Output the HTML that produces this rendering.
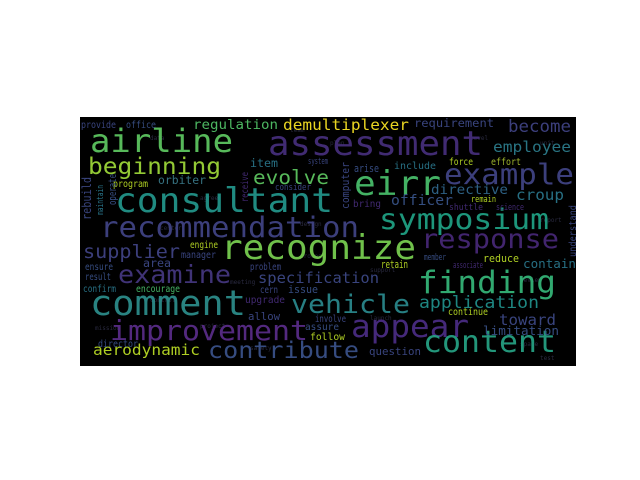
<!DOCTYPE html>
<html><head><meta charset="utf-8"><style>
html,body{margin:0;padding:0;background:#fff;width:640px;height:480px;overflow:hidden}
svg text{font-family:"DejaVu Sans Mono","Liberation Mono",monospace}
</style></head><body>
<svg id="cloud" width="640" height="480" xmlns="http://www.w3.org/2000/svg">
<rect x="80" y="117" width="496" height="249" fill="#000"/>
</svg>
<script>
// words, font sizes and colors for the cloud
const words = ["airline","assessment","consultant","recommendation","recognize","eirr","example","symposium","finding","response","appear","content","comment","vehicle","improvement","contribute","examine","supplier","specification","aerodynamic","beginning","evolve","regulation","demultiplexer","requirement","become","employee","provide","office","item","orbiter","program","consider","system","arise","include","force","effort","directive","croup","officer","bring","remain","shuttle","science","engine","manager","area","ensure","result","problem","confirm","encourage","cern","issue","upgrade","allow","director","involve","assure","follow","question","member","reduce","retain","contain","associate","application","continue","toward","limitation","rebuild","operate","receive","computer","understand","maintain"];
const sizes = [34,36,36,31,36,36,31,31,33,29,33,32,37,28,30,25,27,20,16,16,25,21,14,16,12,18,16,10,10,12,12,10,9,9,11,10,10,10,14,16,15,10,9,9,9,10,10,12,10,10,10,10,10,10,11,10,11,10,10,10,10,11,9,11,11,13,9,18,10,16,13,13,11,10,11,10,9];
const colors = ["#5ec962","#472f7d","#23978c","#414487","#7ad151","#4ac16d","#414487","#20a386","#35b779","#482878","#4b2d86","#26a384","#2c8e8c","#2a8a8e","#5a2d8a","#3b528b","#453781","#414487","#3e4a89","#bddf26","#a0da39","#5ec962","#52c569","#fde725","#3e4a89","#414487","#2c7e8e","#3e4a89","#3b528b","#2a788e","#3b7c8c","#bddf26","#3e4a89","#3e4a89","#3b528b","#2a788e","#bddf26","#a8c030","#31688e","#2a788e","#39568c","#472d7b","#bddf26","#472d7b","#472d7b","#bddf26","#3e4a89","#3e4a89","#3b528b","#3b528b","#3e4a89","#2a788e","#4ac16d","#3e4a89","#3b528b","#472d7b","#3e4a89","#3b528b","#3e4a89","#3b528b","#bddf26","#3e4a89","#3b528b","#bddf26","#bddf26","#2a788e","#472d7b","#21918c","#bddf26","#3e4a89","#3b528b","#3e4a89","#3b528b","#472d7b","#3e4a89","#3e4a89","#2a788e"];
// layout produced by the cloud placer: [x, baseline, width, rotated]
const layout = [[90,152,143,0],[268,155,215,0],[115,212,218,0],[100,237,259,0],[221,259,195,0],[354,195,87,0],[444,184,130,0],[379,229,170,0],[418,293,138,0],[421,248,138,0],[351,337,118,0],[423,352,133,0],[90,315,156,0],[291,313,119,0],[110,340,198,0],[208,358,151,0],[118,283,113,0],[83,258,97,0],[258,283,121,0],[93,355,107,0],[88,174,133,0],[253,184,76,0],[193,129,85,0],[283,130,126,0],[414,127,80,0],[508,132,63,0],[493,152,78,0],[81,128,35,0],[126,128,30,0],[250,167,28,0],[158,184,48,0],[113,187,35,0],[275,190,36,0],[308,164,20,0],[354,172,25,0],[394,169,42,0],[449,165,24,0],[491,165,30,0],[431,194,77,0],[516,200,48,0],[391,205,62,0],[353,207,28,0],[471,202,25,0],[449,210,34,0],[496,210,28,0],[190,248,28,0],[181,258,35,0],[143,267,28,0],[85,270,28,0],[85,280,26,0],[250,270,31,0],[83,292,33,0],[136,292,44,0],[260,293,18,0],[288,293,30,0],[245,303,40,0],[248,320,32,0],[98,347,40,0],[315,322,31,0],[305,330,34,0],[310,340,35,0],[369,355,52,0],[424,260,22,0],[483,262,36,0],[381,268,27,0],[523,268,53,0],[453,268,30,0],[419,308,120,0],[448,315,40,0],[499,325,57,0],[483,335,76,0],[91,220,43,1],[116,205,31,1],[248,202,30,1],[349,209,47,1],[576,257,52,1],[103,215,30,1]];

const NS = "http://www.w3.org/2000/svg";
const svg = document.getElementById("cloud");

// faint filler texture words
const fillerWords = ["data","plan","level","unit","agree","center","design","report","meeting","process","support","review","control","project","safety","launch","space","mission","test","team"];
const fillerSpots = [[150,140],[330,145],[470,140],[540,145],[200,200],[160,230],[300,226],[540,222],[230,284],[300,258],[370,272],[520,282],[150,302],[200,328],[250,350],[370,320],[520,346],[95,330],[540,360],[290,132]];
fillerWords.forEach((w,i)=>{
  const t = document.createElementNS(NS,"text");
  
  
  t.setAttribute("x", fillerSpots[i][0]);
  t.setAttribute("y", fillerSpots[i][1]);
  t.setAttribute("font-size", 6);
  t.setAttribute("fill", "#2a2a40");
  t.textContent = w;
  svg.appendChild(t);
});

words.forEach((w,i)=>{
  const [x,y,len,rot] = layout[i];
  const t = document.createElementNS(NS,"text");
  
  
  t.setAttribute("font-size", (sizes[i] * 0.93).toFixed(1));
  t.setAttribute("fill", colors[i]);
  t.setAttribute("fill-opacity", "0.92");
  t.setAttribute("textLength", len);
  t.setAttribute("lengthAdjust", "spacingAndGlyphs");
  if (rot) {
    t.setAttribute("x", 0); t.setAttribute("y", 0);
    t.setAttribute("transform", "translate(" + x + "," + y + ") rotate(-90)");
  } else {
    t.setAttribute("x", x); t.setAttribute("y", y);
  }
  t.textContent = w;
  svg.appendChild(t);
});
</script>
</body></html>
